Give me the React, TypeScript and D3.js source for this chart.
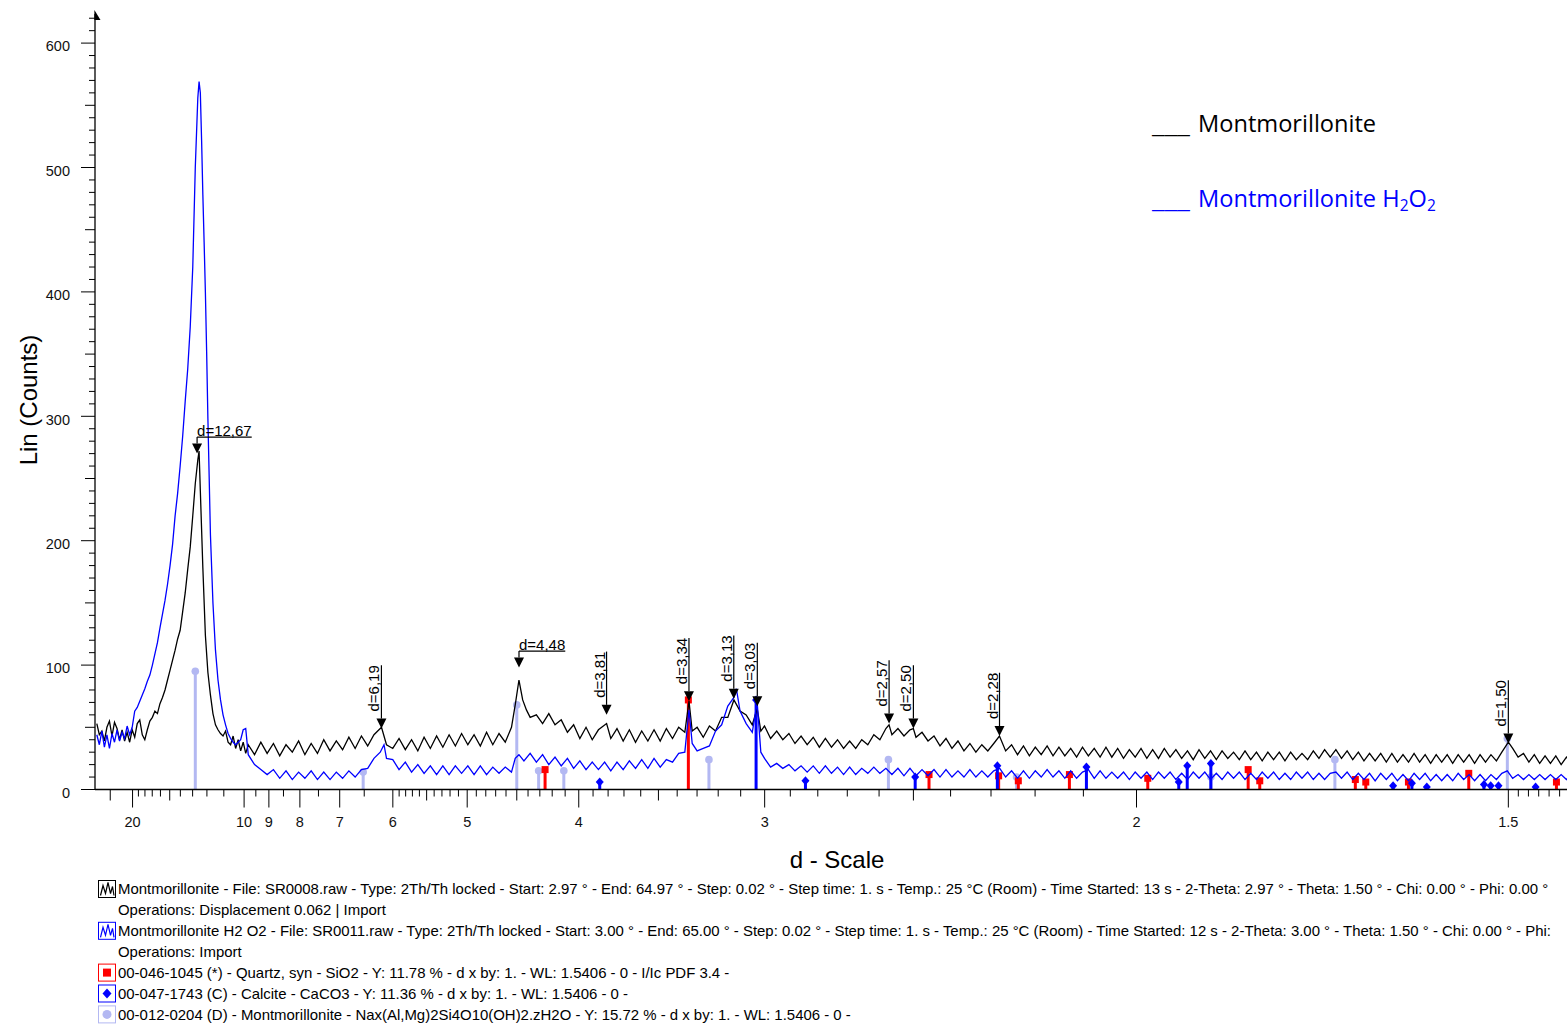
import React from 'react';
import * as d3 from 'd3';

// ---------------- DATA ----------------
const WAVELENGTH = 1.5406; // Cu Kα, Å

// Scan 1: Montmorillonite  [2θ (deg), counts]
const blackScan: [number, number][] = [
  [3.0,53],[3.1,44],[3.2,47],[3.3,39],[3.4,50],[3.5,55],[3.6,43],[3.7,54],[3.8,49],[3.9,40],
  [4.0,48],[4.1,39],[4.2,46],[4.3,38],[4.4,48],[4.5,42],[4.6,53],[4.7,56],[4.8,44],[4.9,40],
  [5.0,48],[5.1,55],[5.2,58],[5.3,63],[5.4,61],[5.5,69],[5.6,74],[5.7,80],[5.8,88],[5.9,96],
  [6.0,104],[6.1,112],[6.2,121],[6.3,128],[6.4,143],[6.5,158],[6.6,177],[6.7,195],[6.8,220],[6.9,246],
  [7.0,265],[7.05,272],[7.1,240],[7.2,178],[7.3,124],[7.4,94],[7.5,76],[7.6,61],[7.7,52],[7.8,48],[7.9,45],
  [8.0,43],[8.1,47],[8.2,38],[8.3,36],[8.4,43],[8.5,33],[8.6,40],[8.7,31],[8.8,38],[8.9,29],[9.0,36],
  [9.25,28],[9.5,38],[9.75,29],[10,37],[10.25,27],[10.5,36],[10.75,30],[11,39],[11.25,28],[11.5,37],
  [11.75,29],[12,40],[12.25,31],[12.5,39],[12.75,32],[13,42],[13.25,33],[13.5,43],[13.75,35],[14,44],
  [14.3,50],[14.5,36],[14.75,33],[15,41],[15.25,32],[15.5,40],[15.75,31],[16,42],[16.25,33],[16.5,43],
  [16.75,34],[17,44],[17.25,35],[17.5,45],[17.75,36],[18,44],[18.25,35],[18.5,46],[18.75,36],[19,45],
  [19.25,38],[19.5,50],[19.65,68],[19.8,88],[19.95,72],[20.1,64],[20.25,58],[20.5,60],[20.75,53],[21,61],
  [21.25,52],[21.5,56],[21.75,46],[22,52],[22.25,41],[22.5,50],[22.75,40],[23,48],[23.33,53],[23.5,41],
  [23.75,49],[24,39],[24.25,48],[24.5,38],[24.75,47],[25,39],[25.25,48],[25.5,39],[25.75,49],[26,41],
  [26.25,50],[26.5,46],[26.67,71],[26.8,47],[27,50],[27.25,42],[27.5,51],[27.75,47],[28,58],[28.25,58],
  [28.5,72],[28.75,63],[29,60],[29.25,52],[29.45,65],[29.6,47],[29.75,51],[30,41],[30.25,47],[30.5,40],
  [30.75,45],[31,37],[31.25,43],[31.5,36],[31.75,42],[32,34],[32.25,41],[32.5,34],[32.75,40],[33,33],
  [33.25,39],[33.5,33],[33.75,40],[34,36],[34.25,44],[34.5,40],[34.75,49],[34.88,52],[35,44],[35.25,49],
  [35.5,43],[35.75,48],[35.89,49],[36,42],[36.25,46],[36.5,39],[36.75,43],[37,35],[37.25,41],[37.5,33],
  [37.75,39],[38,31],[38.25,37],[38.5,30],[38.75,36],[39,31],[39.25,37],[39.49,43],[39.75,31],[40,36],
  [40.25,28],[40.5,35],[40.75,27],[41,34],[41.25,28],[41.5,35],[41.75,27],[42,34],[42.25,27],[42.5,33],
  [42.75,26],[43,34],[43.25,27],[43.5,33],[43.75,26],[44,34],[44.25,26],[44.5,33],[44.75,25],[45,32],
  [45.25,26],[45.5,33],[45.75,25],[46,32],[46.25,25],[46.5,33],[46.75,26],[47,32],[47.25,25],[47.5,31],
  [47.75,24],[48,32],[48.25,25],[48.5,31],[48.75,24],[49,31],[49.25,25],[49.5,30],[49.75,24],[50,31],
  [50.25,24],[50.5,30],[50.75,23],[51,30],[51.25,24],[51.5,30],[51.75,23],[52,30],[52.25,24],[52.5,29],
  [52.75,24],[53,31],[53.25,25],[53.5,32],[53.75,26],[54,32],[54.25,25],[54.5,31],[54.75,24],[55,30],
  [55.25,23],[55.5,29],[55.75,23],[56,29],[56.25,22],[56.5,29],[56.75,22],[57,28],[57.25,22],[57.5,29],
  [57.75,22],[58,28],[58.25,21],[58.5,28],[58.75,22],[59,28],[59.25,21],[59.5,28],[59.75,22],[60,28],
  [60.25,21],[60.5,28],[60.75,22],[61,28],[61.25,23],[61.5,30],[61.8,38],[62,33],[62.25,26],[62.5,29],
  [62.75,22],[63,28],[63.25,21],[63.5,27],[63.75,21],[64,27],[64.25,20],[64.5,26],[64.75,21],[65,25],
];

// Scan 2: Montmorillonite H2O2  [2θ (deg), counts]
const blueScan: [number, number][] = [
  [3.0,44],[3.1,36],[3.2,47],[3.3,34],[3.4,44],[3.5,33],[3.6,45],[3.7,38],[3.8,48],[3.9,39],
  [4.0,46],[4.1,41],[4.2,51],[4.3,44],[4.4,50],[4.5,63],[4.6,66],[4.7,71],[4.8,76],[4.9,81],
  [5.0,87],[5.1,92],[5.2,100],[5.3,109],[5.4,118],[5.5,130],[5.6,141],[5.7,152],[5.8,165],[5.9,180],
  [6.0,197],[6.1,220],[6.2,238],[6.3,260],[6.4,284],[6.5,312],[6.6,338],[6.7,372],[6.8,420],[6.9,500],
  [7.0,556],[7.05,569],[7.1,560],[7.15,522],[7.2,478],[7.25,440],[7.3,400],[7.35,352],[7.4,298],[7.5,205],
  [7.6,150],[7.7,112],[7.8,88],[7.9,72],[8.0,60],[8.1,52],[8.2,45],[8.3,41],[8.4,38],[8.5,36],
  [8.6,38],[8.7,40],[8.8,48],[8.9,49],[9.0,28],
  [9.25,20],[9.5,16],[9.75,12],[10,16],[10.25,9],[10.5,15],[10.75,8],[11,14],[11.25,9],[11.5,15],
  [11.75,8],[12,14],[12.25,8],[12.5,14],[12.75,9],[13,15],[13.25,10],[13.5,16],[13.75,17],[14,25],
  [14.25,30],[14.4,36],[14.5,25],[14.75,24],[15,16],[15.25,22],[15.5,14],[15.75,20],[16,13],[16.25,19],
  [16.5,12],[16.75,19],[17,12],[17.25,19],[17.5,13],[17.75,19],[18,12],[18.25,19],[18.5,12],[18.75,18],
  [19,13],[19.25,18],[19.5,14],[19.65,25],[19.8,28],[20,23],[20.25,29],[20.5,22],[20.75,28],[21,20],
  [21.25,26],[21.5,19],[21.75,25],[22,17],[22.25,23],[22.5,16],[22.75,22],[23,16],[23.25,22],[23.5,15],
  [23.75,22],[24,16],[24.25,23],[24.5,17],[24.75,24],[25,17],[25.25,25],[25.5,18],[25.75,24],[26,22],
  [26.25,29],[26.5,30],[26.67,64],[26.8,37],[27,31],[27.25,33],[27.5,35],[27.75,47],[28,52],[28.25,67],
  [28.5,74],[28.6,81],[28.75,63],[29,53],[29.25,46],[29.45,70],[29.6,30],[29.75,25],[30,18],[30.25,21],
  [30.5,17],[30.75,20],[31,15],[31.25,19],[31.5,14],[31.75,19],[32,13],[32.25,19],[32.5,13],[32.75,18],
  [33,12],[33.25,18],[33.5,12],[33.75,17],[34,13],[34.25,18],[34.5,13],[34.75,17],[35,12],[35.25,17],
  [35.5,11],[35.75,17],[36,11],[36.25,16],[36.5,11],[36.75,16],[37,10],[37.25,16],[37.5,10],[37.75,15],
  [38,10],[38.25,16],[38.5,10],[38.75,15],[39,10],[39.25,15],[39.5,17],[39.75,10],[40,15],[40.25,9],
  [40.5,15],[40.75,9],[41,15],[41.25,10],[41.5,16],[41.75,10],[42,15],[42.25,9],[42.5,15],[42.75,9],
  [43,14],[43.25,16],[43.5,9],[43.75,15],[44,9],[44.25,14],[44.5,9],[44.75,14],[45,8],[45.25,14],
  [45.5,9],[45.75,14],[46,8],[46.25,14],[46.5,9],[46.75,14],[47,8],[47.25,13],[47.5,8],[47.75,14],
  [48,9],[48.25,14],[48.5,8],[48.75,13],[49,8],[49.25,14],[49.5,9],[49.75,14],[50,8],[50.25,13],
  [50.5,8],[50.75,14],[51,9],[51.25,14],[51.5,8],[51.75,13],[52,8],[52.25,14],[52.5,9],[52.75,14],
  [53,8],[53.25,13],[53.5,8],[53.75,13],[54,14],[54.25,9],[54.5,14],[54.75,8],[55,13],[55.25,8],
  [55.5,13],[55.75,7],[56,13],[56.25,8],[56.5,13],[56.75,7],[57,12],[57.25,7],[57.5,13],[57.75,8],
  [58,13],[58.25,7],[58.5,12],[58.75,7],[59,12],[59.25,7],[59.5,13],[59.75,8],[60,12],[60.25,7],
  [60.5,12],[60.75,7],[61,12],[61.25,8],[61.5,13],[61.75,15],[62,9],[62.25,12],[62.5,8],[62.75,12],
  [63,8],[63.25,12],[63.5,8],[63.75,12],[64,8],[64.25,12],[64.5,8],[64.75,12],[65,9],
];

// Reference patterns: d-spacing (Å) and stick height (counts)
const quartzD = [4.257, 3.343, 2.457, 2.282, 2.237, 2.128, 1.98, 1.818, 1.801, 1.672, 1.659, 1.608, 1.541, 1.453];
const quartzCounts = [16, 72, 12, 11, 7, 12, 9, 16, 7, 8, 6, 6, 13, 6];
const calciteD = [3.855, 3.035, 2.844, 2.495, 2.285, 2.094, 1.927, 1.913, 1.875, 1.626, 1.604, 1.587, 1.525, 1.518, 1.51, 1.473];
const calciteCounts = [6, 72, 7, 10, 19, 18, 6, 19, 21, 3, 5, 2, 4, 3, 3, 2];
const montD = [12.8, 6.52, 4.5, 4.31, 4.11, 3.243, 2.572, 2.241, 1.875, 1.698, 1.501];
const montCounts = [95, 14, 68, 15, 15, 24, 24, 10, 10, 24, 41];

// Peak search labels
const peakD = [12.67, 6.19, 4.48, 3.81, 3.34, 3.13, 3.03, 2.57, 2.5, 2.28, 1.5];
const peakCounts = [270, 49, 98, 60, 71, 73, 67, 53, 49, 43, 37];
const peakHorizontal = [true, false, true, false, false, false, false, false, false, false, false];

// Axes
const yTicks = [0, 100, 200, 300, 400, 500, 600];
const yMinorMax = 620;
const xMajorD = [20, 10, 9, 8, 7, 6, 5, 4, 3, 2, 1.5];
const xMajorLabels = ['20', '10', '9', '8', '7', '6', '5', '4', '3', '2', '1.5'];
const xMediumD = [25, 15, 5.5, 4.5, 3.5, 2.5];
const xMinorD = [
  19, 18, 17, 16, 14, 13, 12, 11, 9.5, 8.5, 7.5, 6.5,
  5.9, 5.8, 5.7, 5.6, 5.4, 5.3, 5.2, 5.1,
  4.9, 4.8, 4.7, 4.6, 4.4, 4.3, 4.2, 4.1,
  3.9, 3.8, 3.7, 3.6, 3.4, 3.3, 3.2, 3.1,
  2.9, 2.8, 2.7, 2.6, 2.4, 2.3, 2.2, 2.1,
  1.49, 1.48, 1.47, 1.46, 1.45,
];

const legendTopLabels = ['Montmorillonite', 'Montmorillonite H'];
const legendBottom = [
  'Montmorillonite - File: SR0008.raw - Type: 2Th/Th locked - Start: 2.97 ° - End: 64.97 ° - Step: 0.02 ° - Step time: 1. s - Temp.: 25 °C (Room) - Time Started: 13 s - 2-Theta: 2.97 ° - Theta: 1.50 ° - Chi: 0.00 ° - Phi: 0.00 °',
  'Operations: Displacement 0.062 | Import',
  'Montmorillonite H2 O2 - File: SR0011.raw - Type: 2Th/Th locked - Start: 3.00 ° - End: 65.00 ° - Step: 0.02 ° - Step time: 1. s - Temp.: 25 °C (Room) - Time Started: 12 s - 2-Theta: 3.00 ° - Theta: 1.50 ° - Chi: 0.00 ° - Phi:',
  'Operations: Import',
  '00-046-1045 (*) - Quartz, syn - SiO2 - Y: 11.78 % - d x by: 1. - WL: 1.5406 - 0 - I/Ic PDF 3.4 -',
  '00-047-1743 (C) - Calcite - CaCO3 - Y: 11.36 % - d x by: 1. - WL: 1.5406 - 0 -',
  '00-012-0204 (D) - Montmorillonite - Nax(Al,Mg)2Si4O10(OH)2.zH2O - Y: 15.72 % - d x by: 1. - WL: 1.5406 - 0 -',
];
const legendIcons = ['scanBlack', null, 'scanBlue', null, 'quartz', 'calcite', 'mont'];

// ---------------- STYLE ----------------
const C_BLACK = '#000000';
const C_BLUE = '#0000ff';
const C_RED = '#ff0000';
const C_LAV = '#b3b8f2';
const FONT = '"Liberation Sans", Arial, Helvetica, sans-serif';

const W = 1567;
const H = 1024;
const PLOT_LEFT = 95;
const PLOT_RIGHT = 1567;

const invD = (twoTheta: number) => (2 * Math.sin(((twoTheta / 2) * Math.PI) / 180)) / WAVELENGTH;

// x is linear in 1/d
const x = d3.scaleLinear().domain([0, 1]).range([21, 2252]);
const y = d3.scaleLinear().domain([0, 600]).range([789.5, 43.1]);
const xd = (d: number) => x(1 / d);

const charW: Record<string, number> = { d: 0.556, '=': 0.584, ',': 0.278 };
const arialWidth = (s: string, size: number) =>
  s.split('').reduce((a, c) => a + (charW[c] ?? 0.556), 0) * size;

export default function App() {
  const line = d3
    .line<[number, number]>()
    .x((p) => x(invD(p[0])))
    .y((p) => y(p[1]));

  const yMinor = d3.range(0, yMinorMax + 1, 10);
  const AXIS_Y = y(0);

  const sticks = (ds: number[], cs: number[], color: string, kind: string) =>
    ds.map((d, i) => {
      const cx = xd(d);
      const cy = y(cs[i]);
      let marker: React.ReactNode = null;
      if (kind === 'square') marker = <rect x={cx - 3.5} y={cy - 3.5} width={7} height={7} fill={color} />;
      if (kind === 'diamond')
        marker = <polygon points={`${cx},${cy - 4.5} ${cx + 4},${cy} ${cx},${cy + 4.5} ${cx - 4},${cy}`} fill={color} />;
      if (kind === 'circle') marker = <circle cx={cx} cy={cy} r={3.8} fill={color} />;
      return (
        <g key={`${kind}-${i}`}>
          <line x1={cx} x2={cx} y1={AXIS_Y} y2={cy} stroke={color} strokeWidth={3} />
          {marker}
        </g>
      );
    });

  const LABEL_SIZE = 15;

  return (
    <div style={{ position: 'absolute', left: 0, top: 0 }}>
      <svg width={W} height={H} viewBox={`0 0 ${W} ${H}`} style={{ display: 'block', background: '#fff' }} fontFamily={FONT}>
        <defs>
          <clipPath id="plotClip">
            <rect x={PLOT_LEFT} y={0} width={PLOT_RIGHT - PLOT_LEFT} height={AXIS_Y} />
          </clipPath>
        </defs>

        {/* reference sticks */}
        <g clipPath="url(#plotClip)">
          {sticks(montD, montCounts, C_LAV, 'circle')}
          {sticks(quartzD, quartzCounts, C_RED, 'square')}
          {sticks(calciteD, calciteCounts, C_BLUE, 'diamond')}
        </g>

        {/* scans */}
        <g clipPath="url(#plotClip)" fill="none" strokeLinejoin="miter">
          <path d={line(blackScan) || ''} stroke={C_BLACK} strokeWidth={1.3} />
          <path d={line(blueScan) || ''} stroke={C_BLUE} strokeWidth={1.3} />
        </g>

        {/* peak labels */}
        <g fill={C_BLACK}>
          {peakD.map((d, i) => {
            const px = xd(d);
            const tip = y(peakCounts[i]);
            const triTop = tip - 10;
            const label = 'd=' + d.toFixed(2).replace('.', ',');
            const tw = arialWidth(label, LABEL_SIZE);
            if (peakHorizontal[i]) {
              const ul = triTop - 6.5;
              return (
                <g key={`pk${i}`}>
                  <polygon points={`${px - 5},${triTop} ${px + 5},${triTop} ${px},${tip}`} />
                  <line x1={px} x2={px} y1={ul} y2={triTop} stroke={C_BLACK} strokeWidth={1.2} />
                  <line x1={px} x2={px + tw} y1={ul} y2={ul} stroke={C_BLACK} strokeWidth={1.2} />
                  <text x={px} y={ul - 1.5} fontSize={LABEL_SIZE}>
                    {label}
                  </text>
                </g>
              );
            }
            const textBottom = triTop - 7;
            return (
              <g key={`pk${i}`}>
                <polygon points={`${px - 5},${triTop} ${px + 5},${triTop} ${px},${tip}`} />
                <line x1={px} x2={px} y1={textBottom - tw} y2={triTop} stroke={C_BLACK} strokeWidth={1.2} />
                <text transform={`translate(${px - 2},${textBottom}) rotate(-90)`} fontSize={LABEL_SIZE}>
                  {label}
                </text>
              </g>
            );
          })}
        </g>

        {/* y axis */}
        <g stroke={C_BLACK} strokeWidth={1}>
          <line x1={PLOT_LEFT} x2={PLOT_LEFT} y1={AXIS_Y} y2={14} strokeWidth={1.3} />
          {yMinor.map((v) => {
            const len = v % 100 === 0 ? 14 : v % 50 === 0 ? 10 : 6;
            return <line key={`ym${v}`} x1={PLOT_LEFT - len} x2={PLOT_LEFT} y1={y(v)} y2={y(v)} />;
          })}
        </g>
        <polygon points={`${PLOT_LEFT - 0.6},10 ${PLOT_LEFT + 5.5},20 ${PLOT_LEFT - 0.6},20`} fill={C_BLACK} />
        <g fontSize={14.5} fill="#111" textAnchor="end">
          {yTicks.map((v) => (
            <text key={`yl${v}`} x={70} y={y(v) + 3} dy="0.36em">
              {v}
            </text>
          ))}
        </g>
        <text transform="translate(37,400) rotate(-90)" textAnchor="middle" fontSize={24}>
          Lin (Counts)
        </text>

        {/* x axis */}
        <g stroke={C_BLACK} strokeWidth={1}>
          <line x1={PLOT_LEFT} x2={PLOT_RIGHT} y1={AXIS_Y} y2={AXIS_Y} strokeWidth={1.3} />
          {xMinorD.map((d) => (
            <line key={`xm${d}`} x1={xd(d)} x2={xd(d)} y1={AXIS_Y} y2={AXIS_Y + 7} />
          ))}
          {xMediumD.map((d) => (
            <line key={`xd${d}`} x1={xd(d)} x2={xd(d)} y1={AXIS_Y} y2={AXIS_Y + 11} />
          ))}
          {xMajorD.map((d) => (
            <line key={`xM${d}`} x1={xd(d)} x2={xd(d)} y1={AXIS_Y} y2={AXIS_Y + 18} />
          ))}
        </g>
        <g fontSize={14.5} fill="#111" textAnchor="middle">
          {xMajorD.map((d, i) => (
            <text key={`xl${d}`} x={xd(d)} y={822} dy="0.36em">
              {xMajorLabels[i]}
            </text>
          ))}
        </g>
        <text x={837} y={868} textAnchor="middle" fontSize={24}>
          d - Scale
        </text>

        {/* top-right legend */}
        <g fontFamily='"Open Sans", "Noto Sans", sans-serif' fontSize={23.6}>
          <text x={1152} y={133} fill={C_BLACK} textLength={38} lengthAdjust="spacingAndGlyphs">___</text>
          <text x={1198} y={132} fill={C_BLACK}>{legendTopLabels[0]}</text>
          <text x={1152} y={208} fill={C_BLUE} textLength={38} lengthAdjust="spacingAndGlyphs">___</text>
          <text x={1198} y={207} fill={C_BLUE}>
            {legendTopLabels[1]}
            <tspan fontSize={15.5} dy={4}>2</tspan>
            <tspan dy={-4}>O</tspan>
            <tspan fontSize={15.5} dy={4}>2</tspan>
          </text>
        </g>

        {/* bottom legend */}
        <g fontSize={14.95} fill={C_BLACK}>
          {legendBottom.map((s, i) => {
            const cy = 889 + i * 20.9;
            const icon = legendIcons[i];
            let iconEl: React.ReactNode = null;
            const bx = 98.5;
            const by = cy - 8.5;
            if (icon === 'scanBlack' || icon === 'scanBlue') {
              const col = icon === 'scanBlack' ? C_BLACK : C_BLUE;
              iconEl = (
                <g>
                  <rect x={bx} y={by} width={17} height={17} fill="#fff" stroke={col} strokeWidth={1} />
                  <polyline
                    points={`${bx + 2},${by + 15} ${bx + 4.5},${by + 5} ${bx + 7},${by + 13} ${bx + 9.5},${by + 2} ${bx + 12},${by + 13} ${bx + 14},${by + 6} ${bx + 15.5},${by + 15}`}
                    fill="none"
                    stroke={col}
                    strokeWidth={1.2}
                  />
                </g>
              );
            } else if (icon === 'quartz') {
              iconEl = (
                <g>
                  <rect x={bx} y={by} width={17} height={17} fill="#fff" stroke={C_RED} strokeWidth={1} />
                  <rect x={bx + 4.5} y={by + 4.5} width={8} height={8} fill={C_RED} />
                </g>
              );
            } else if (icon === 'calcite') {
              iconEl = (
                <g>
                  <rect x={bx} y={by} width={17} height={17} fill="#fff" stroke={C_BLUE} strokeWidth={1} />
                  <polygon
                    points={`${bx + 8.5},${by + 3.5} ${bx + 13},${by + 8.5} ${bx + 8.5},${by + 13.5} ${bx + 4},${by + 8.5}`}
                    fill={C_BLUE}
                  />
                </g>
              );
            } else if (icon === 'mont') {
              iconEl = (
                <g>
                  <rect x={bx} y={by} width={17} height={17} fill="#fff" stroke={C_LAV} strokeWidth={1} />
                  <circle cx={bx + 8.5} cy={by + 8.5} r={4.5} fill={C_LAV} />
                </g>
              );
            }
            return (
              <g key={`lg${i}`}>
                {iconEl}
                <text x={118} y={cy} dy="0.36em">
                  {s}
                </text>
              </g>
            );
          })}
        </g>
      </svg>
    </div>
  );
}
